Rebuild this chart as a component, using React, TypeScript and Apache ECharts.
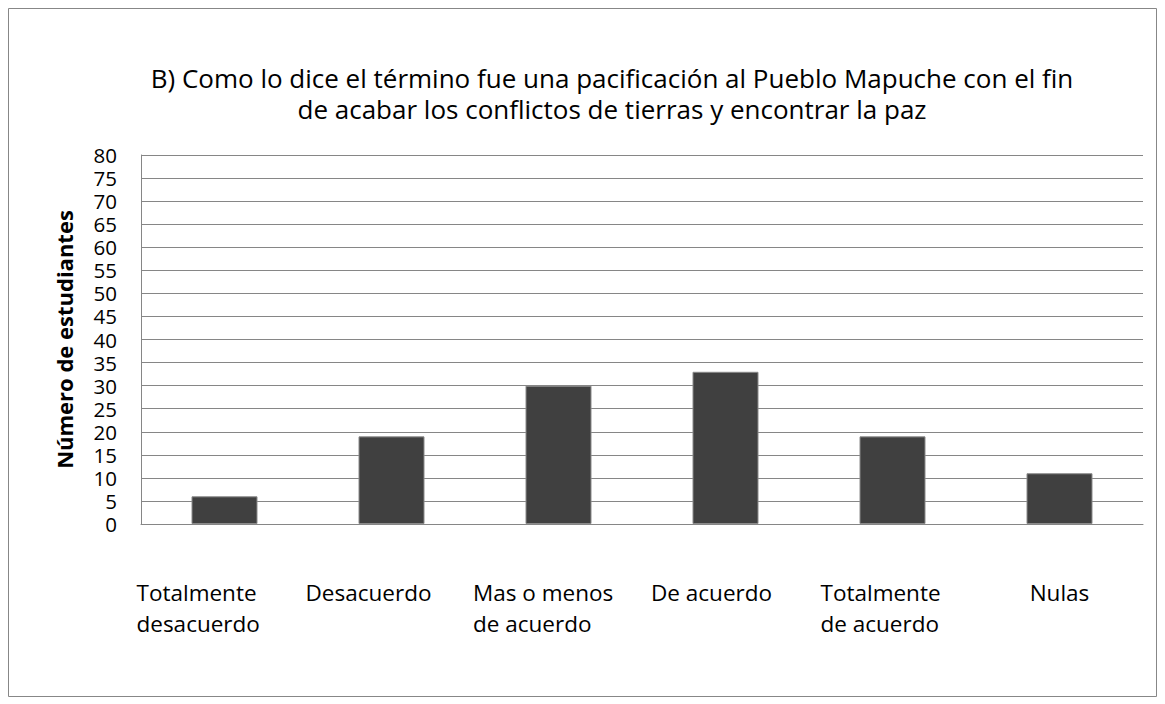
import React, { useEffect, useRef } from "react";
import * as echarts from "echarts";

const titleLines = [
  "B) Como lo dice el término fue una pacificación al Pueblo Mapuche con el fin",
  "de acabar los conflictos de tierras y encontrar la paz",
];
const categories = [
  "Totalmente\ndesacuerdo",
  "Desacuerdo",
  "Mas o menos\nde acuerdo",
  "De acuerdo",
  "Totalmente\nde acuerdo",
  "Nulas",
];
const values = [6, 19, 30, 33, 19, 11];
const yAxisName = "Número de estudiantes";

// horizontal shift (px, to the left) of each category label block, as in the reference
const labelShift = [56, 46, 30, 28, 24, 0];
// width of multi-line label blocks (lines are left-aligned inside), 0 = auto
const labelBlockWidth = [120, 0, 141, 0, 120, 0];

const FONT = "'Open Sans', sans-serif";

export default function App() {
  const ref = useRef<HTMLDivElement>(null);
  useEffect(() => {
    if (!ref.current) return;
    const chart = echarts.init(ref.current, undefined, { renderer: "svg" });
    const rich: Record<string, any> = {};
    labelShift.forEach((s, i) => {
      const st: any = {
        fontFamily: FONT,
        fontSize: 22.5,
        color: "#000",
        lineHeight: 31,
        padding: [0, s, 0, 0],
      };
      if (labelBlockWidth[i]) {
        st.width = labelBlockWidth[i];
        st.align = "left";
      }
      rich["l" + i] = st;
    });
    chart.setOption({
      animation: false,
      backgroundColor: "#ffffff",
      textStyle: { fontFamily: FONT },
      title: {
        text: titleLines.join("\n"),
        left: 599,
        top: 49,
        textAlign: "center",
        textStyle: {
          fontFamily: FONT,
          fontSize: 26,
          fontWeight: "normal",
          color: "#000",
          lineHeight: 31,
        },
      },
      graphic: [
        {
          type: "rect",
          shape: { x: 0.5, y: 0.5, width: 1148, height: 688 },
          style: { fill: "none", stroke: "#878787", lineWidth: 1 },
          silent: true,
        },
      ],
      grid: { left: 133, right: 15, top: 147, bottom: 174 },
      xAxis: {
        type: "category",
        data: categories,
        axisLine: { lineStyle: { color: "#868686", width: 1 } },
        axisTick: { show: false },
        axisLabel: {
          fontFamily: FONT,
          fontSize: 22.5,
          color: "#000",
          margin: 53,
          lineHeight: 31,
          interval: 0,
          formatter: (v: string, i: number) =>
            v
              .split("\n")
              .map((line) => `{l${i}|${line}}`)
              .join("\n"),
          rich,
        },
      },
      yAxis: {
        type: "value",
        min: 0,
        max: 80,
        interval: 5,
        name: yAxisName,
        nameLocation: "middle",
        nameGap: 66,
        nameTextStyle: {
          fontFamily: FONT,
          fontSize: 22,
          fontWeight: "bold",
          color: "#000",
        },
        axisLine: { show: true, lineStyle: { color: "#868686", width: 1 } },
        axisTick: { show: false },
        axisLabel: {
          fontFamily: FONT,
          fontSize: 20.5,
          lineHeight: 20,
          color: "#000",
          margin: 24,
        },
        splitLine: { lineStyle: { color: "#868686", width: 1 } },
      },
      series: [
        {
          type: "bar",
          data: values,
          barWidth: 66,
          itemStyle: { color: "#404040", borderColor: "#8a8a8a", borderWidth: 1 },
        },
      ],
    });
    return () => chart.dispose();
  }, []);
  return <div ref={ref} style={{ width: 1150, height: 690 }} />;
}
